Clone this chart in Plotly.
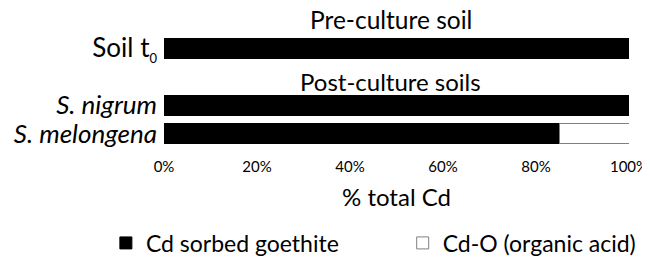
import plotly.graph_objects as go

categories = ["<i>S. melongena</i>", "<i>S. nigrum</i>",
              "Soil t<sub><span style='font-size:13px'>0</span></sub>"]
cat_pos = [0, 1, 3]
goethite = [85, 100, 100]
cd_o = [15, 0, 0]

font = "Lato, Open Sans, sans-serif"
pad = "\u00a0" * 10

fig = go.Figure()
fig.add_trace(go.Bar(
    y=cat_pos, x=goethite, orientation="h", name="Cd sorbed goethite" + pad,
    marker=dict(color="black", line=dict(color="black", width=1)), width=0.7,
))
fig.add_trace(go.Bar(
    y=cat_pos, x=cd_o, orientation="h", name="Cd-O (organic acid)",
    marker=dict(color="white", line=dict(color="#7f7f7f", width=1)), width=0.7,
))

fig.update_layout(
    barmode="stack",
    width=650, height=262,
    margin=dict(l=156, r=29, t=26, b=122, autoexpand=False),
    plot_bgcolor="white", paper_bgcolor="white",
    font=dict(family=font, color="black"),
    showlegend=True,
    legend=dict(orientation="h", x=-0.125, xanchor="left", y=-0.833, yanchor="middle",
                font=dict(size=23, family=font), itemwidth=30,
                traceorder="normal"),
    xaxis=dict(range=[0, 100], tickvals=[0, 20, 40, 60, 80, 100],
               ticktext=["0%", "20%", "40%", "60%", "80%", "100%"],
               showgrid=False, zeroline=False, showline=False, automargin=False,
               tickfont=dict(size=15), ticks="", ticklen=0, ticklabelstandoff=8,
               title=dict(text="% total Cd", font=dict(size=24), standoff=15)),
    yaxis=dict(range=[-0.5, 3.5], tickvals=cat_pos, ticktext=categories,
               showgrid=False, zeroline=False, showline=False, automargin=False,
               tickfont=dict(size=26), ticks="", ticklen=0, ticklabelstandoff=6),
)
fig.add_annotation(x=0.488, y=1.123, xref="paper", yref="paper", text="Pre-culture soil",
                   showarrow=False, font=dict(size=24.5), yanchor="middle")
fig.add_annotation(x=0.488, y=0.579, xref="paper", yref="paper", text="Post-culture soils",
                   showarrow=False, font=dict(size=24), yanchor="middle")

fig.write_html("out.html")
